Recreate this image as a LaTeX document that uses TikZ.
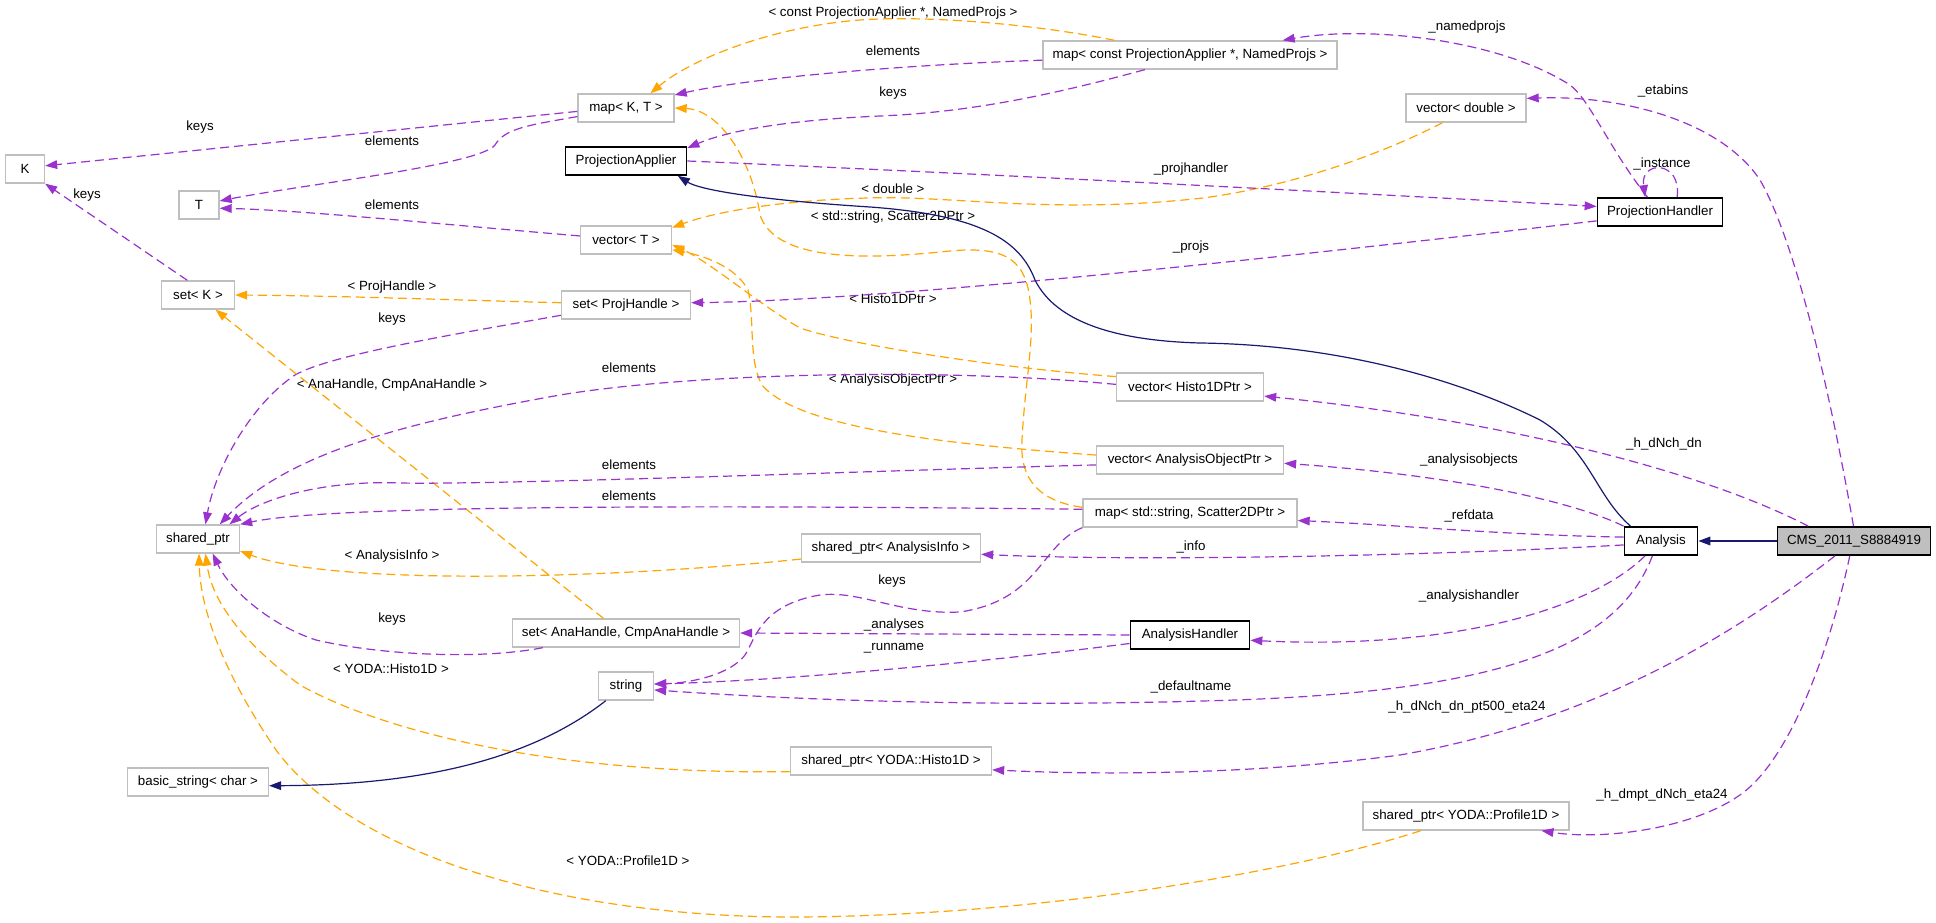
\documentclass[tikz,border=0pt]{standalone}
\usepackage{fontspec}
\setmainfont{Liberation Sans}
\usetikzlibrary{arrows.meta}
\definecolor{edgepurple}{HTML}{9A32CD}
\definecolor{edgeorange}{HTML}{FFA500}
\definecolor{edgeblue}{HTML}{191970}
\definecolor{boxgray}{HTML}{BFBFBF}
\begin{document}
\begin{tikzpicture}[x=0.75pt,y=-0.75pt,line width=0.9pt,font=\fontsize{10}{12}\selectfont]
        \tikzstyle{plainbox}=[rectangle,draw=boxgray,fill=white,line width=1pt,minimum height=21pt,inner sep=0pt]
        \tikzstyle{docbox}=[plainbox,draw=black,line width=1.3pt]
        \tikzstyle{mainbox}=[docbox,fill=boxgray]
        \tikzstyle{lbl}=[inner sep=0pt]
        \tikzstyle{uses}=[draw=edgepurple,dash pattern=on 6.75pt off 3.75pt,-{Triangle[length=9pt,width=6.5pt]}]
        \tikzstyle{tmpl}=[uses,draw=edgeorange]
        \tikzstyle{inh}=[draw=edgeblue,-{Triangle[length=9pt,width=6.5pt]}]
        \path[fill=white,use as bounding box] (0,0) rectangle (1936,923);

        \foreach \nm/\x/\y/\bw/\txt in {K/25/169/39/K, T/199/205/40/T, setK/198/295/73/{set< K >},
                sp/198/539/83/shared\_ptr, bstr/198/782/141/{basic\_string< char >},
                mapKT/626/108/96/{map< K, T >}, vecT/626/240/91/{vector< T >},
                setPH/626/305/129/{set< ProjHandle >}, setAH/626/633/227/{set< AnaHandle, CmpAnaHandle >},
                str/626/686/55/string, spAI/891/548/179/{shared\_ptr< AnalysisInfo >},
                spH1D/891/761/201/{shared\_ptr< YODA::Histo1D >},
                mapPA/1190/55/294/{map< const ProjectionApplier *, NamedProjs >},
                vecH/1190/387/147/{vector< Histo1DPtr >}, vecAO/1190/460/187/{vector< AnalysisObjectPtr >},
                mapS/1190/513/214/{map< std::string, Scatter2DPtr >}, vecD/1466/108/120/{vector< double >},
                spP1D/1466/816/206/{shared\_ptr< YODA::Profile1D >}}
                \node[plainbox,minimum width=\bw*0.75pt] (\nm) at (\x,\y) {\txt};
        \foreach \nm/\x/\y/\bw/\txt in {PA/626/161/121/ProjectionApplier, PH/1660/212/125/ProjectionHandler,
                Ana/1661/541/73/Analysis, AH/1190/635/119/AnalysisHandler}
                \node[docbox,minimum width=\bw*0.75pt] (\nm) at (\x,\y) {\txt};
        \node[mainbox,minimum width=114.75pt] (CMS) at (1854,541) {CMS\_2011\_S8884919};

        \foreach \x/\y/\txt [count=\i] in {200/127/keys, 392/141/elements, 392/205/elements, 87/195/keys,
                893/13/{< const ProjectionApplier *, NamedProjs >}, 893/51/elements, 893/93/keys,
                893/189/{< double >}, 893/217/{< std::string, Scatter2DPtr >}, 392/287/{< ProjHandle >},
                893/299/{< Histo1DPtr >}, 392/319/keys, 629/368/elements, 392/385/{< AnaHandle, CmpAnaHandle >},
                893/380/{< AnalysisObjectPtr >}, 629/465/elements, 629/496/elements, 392/556/{< AnalysisInfo >},
                892/581/keys, 392/619/keys, 894/625/\_analyses, 894/648/\_runname, 391/669/{< YODA::Histo1D >},
                628/861/{< YODA::Profile1D >}, 1191/169/\_projhandler, 1191/247/\_projs, 1467/27/\_namedprojs,
                1663/91/\_etabins, 1662/164/\_instance, 1664/444/\_h\_dNch\_dn, 1469/460/\_analysisobjects,
                1469/516/\_refdata, 1191/547/\_info, 1469/596/\_analysishandler, 1191/687/\_defaultname,
                1467/707/\_h\_dNch\_dn\_pt500\_eta24, 1662/795/\_h\_dmpt\_dNch\_eta24}
                \node[lbl] (L-\i) at (\x,\y) {\txt};

        \draw[uses] (mapKT.184) -- (K.9);
        \draw[uses] (mapKT.190) .. controls (530,125) and (505,128) .. (495,145) .. controls (480,165) and (300,185) .. (T.11);
        \draw[uses] (vecT.175) .. controls (450,225) and (300,210) .. (T.-9);
        \draw[uses] (setK.126) -- (K.south east);
        \draw[tmpl] (setPH.178) .. controls (450,300) and (350,296) .. (setK.east);
        \draw[uses] (setPH.189) .. controls (450,335) and (330,355) .. (295,375) .. controls (250,405) and (215,470) .. (sp.63);
        \draw[tmpl] (setAH.147) -- (setK.-40);
        \draw[uses] (setAH.190) .. controls (480,660) and (380,655) .. (316,640) .. controls (270,625) and (230,590) .. (sp.-45);
        \draw[tmpl] (vecD.-148) .. controls (1390,150) and (1300,185) .. (1203,198) .. controls (1050,215) and (950,195) .. (868,198) .. controls (790,200) and (720,210) .. (vecT.15);
        \draw[tmpl] (vecH.172) .. controls (1000,368) and (850,345) .. (800,328) .. controls (760,305) and (710,262) .. (vecT.-6);
        \draw[tmpl] (vecAO.177) .. controls (960,445) and (800,430) .. (762,385) .. controls (748,360) and (755,320) .. (748,290) .. controls (735,265) and (700,255) .. (vecT.-12);
        \draw[tmpl] (mapS.177) .. controls (1030,500) and (1020,470) .. (1022,440) .. controls (1025,380) and (1035,340) .. (1030,300) .. controls (1025,255) and (1000,245) .. (940,252) .. controls (860,260) and (775,260) .. (760,215) .. controls (752,160) and (720,110) .. (mapKT.east);
        \draw[tmpl] (mapPA.169) .. controls (1040,25) and (930,15) .. (860,20) .. controls (770,27) and (690,60) .. (mapKT.31);
        \draw[uses] (mapPA.182) .. controls (900,65) and (750,78) .. (mapKT.15);
        \draw[uses] (mapPA.198) .. controls (1070,90) and (980,112) .. (880,116) .. controls (790,120) and (730,130) .. (PA.12);
        \draw[uses] (PA.east) .. controls (900,170) and (1300,190) .. (PH.175);
        \draw[uses] (PH.188) .. controls (1300,255) and (900,300) .. (setPH.2);
        \draw[uses] (PH.130) .. controls (1610,150) and (1590,100) .. (1570,85) .. controls (1500,40) and (1370,25) .. (mapPA.9);
        \draw[uses] (PH.41) .. controls (1682,160) and (1640,160) .. (PH.135);
        \draw[uses] (CMS.92) .. controls (1835,420) and (1800,250) .. (1760,180) .. controls (1720,120) and (1620,95) .. (vecD.9);
        \draw[inh] (Ana.154) .. controls (1595,495) and (1590,450) .. (1540,420) .. controls (1470,385) and (1350,345) .. (1200,343) .. controls (1090,340) and (1050,310) .. (1035,280) .. controls (1020,240) and (980,215) .. (870,207) .. controls (760,200) and (700,190) .. (PA.-16);
        \draw[inh] (CMS.west) -- (Ana.east);
        \draw[uses] (CMS.162) .. controls (1700,470) and (1500,420) .. (vecH.-7);
        \draw[uses] (Ana.north west) .. controls (1570,500) and (1450,475) .. (vecAO.-2);
        \draw[uses] (Ana.174) .. controls (1500,535) and (1400,525) .. (mapS.-4);
        \draw[uses] (Ana.186) .. controls (1450,555) and (1150,562) .. (spAI.-4);
        \draw[uses] (Ana.223) .. controls (1590,610) and (1450,650) .. (AH.-5);
        \draw[uses] (Ana.240) .. controls (1620,640) and (1520,690) .. (1235,700) .. controls (1000,708) and (800,700) .. (str.-8);
        \draw[uses] (AH.west) -- (setAH.east);
        \draw[uses] (AH.188) .. controls (1000,660) and (800,680) .. (str.4);
        \draw[uses] (mapS.south west) .. controls (1040,545) and (1040,600) .. (960,612) .. controls (900,615) and (860,590) .. (820,595) .. controls (760,605) and (755,640) .. (745,655) .. controls (730,675) and (690,683) .. (str.4);
        \draw[uses] (vecH.178) .. controls (950,368) and (700,372) .. (560,395) .. controls (420,420) and (290,450) .. (sp.34);
        \draw[uses] (vecAO.183) .. controls (900,470) and (500,485) .. (400,483) .. controls (320,480) and (260,500) .. (sp.25);
        \draw[uses] (mapS.178) .. controls (700,505) and (330,505) .. (sp.north east);
        \draw[tmpl] (spAI.187) .. controls (600,580) and (330,585) .. (sp.-16);
        \draw[tmpl] (spH1D.186) .. controls (550,775) and (380,730) .. (300,685) .. controls (240,640) and (212,600) .. (sp.-63);
        \draw[tmpl] (spP1D.198) .. controls (1300,870) and (1050,915) .. (800,917) .. controls (550,918) and (350,850) .. (276,750) .. controls (215,660) and (200,600) .. (sp.-86);
        \draw[uses] (CMS.218) .. controls (1740,630) and (1600,720) .. (1400,755) .. controls (1250,775) and (1100,775) .. (spH1D.-5);
        \draw[uses] (CMS.254) .. controls (1830,650) and (1790,760) .. (1740,795) .. controls (1690,830) and (1600,840) .. (spP1D.-11);
        \draw[inh] (str.216) .. controls (530,760) and (420,785) .. (bstr.-3);
\end{tikzpicture}
\end{document}
